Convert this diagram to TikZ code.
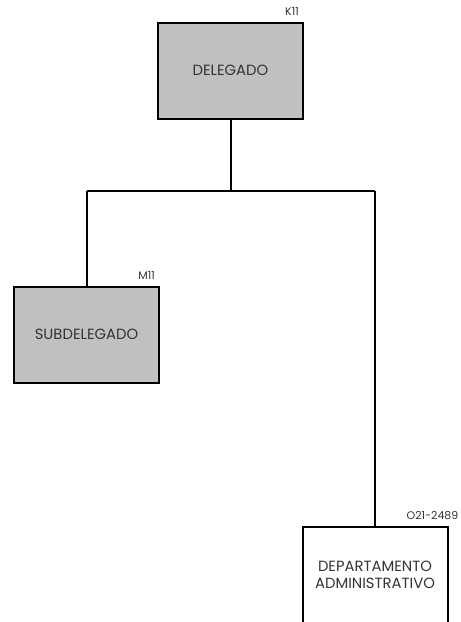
\documentclass[tikz,border=0pt]{standalone}
\usepackage{fontspec}
\setmainfont{Poppins}
\definecolor{boxgray}{HTML}{C0C0C0}
\definecolor{txt}{HTML}{333333}
\tikzset{
  unit/.style={draw=black, line width=2pt, minimum width=145pt, minimum height=96pt, inner sep=0pt, align=center, font=\fontsize{14.8}{16.5}\selectfont, text=txt},
  filled/.style={unit, fill=boxgray},
  code/.style={font=\fontsize{11}{12}\selectfont, text=txt, anchor=south east, inner sep=0pt},
  link/.style={draw=black, line width=2pt}
}
\begin{document}
\begin{tikzpicture}[x=1pt,y=-1pt]
\useasboundingbox (0,0) rectangle (461,622);
\begin{scope}
\clip (0,0) rectangle (461,622);
\node[filled] (del) at (230.5,70.5) {DELEGADO};
\node[filled] (sub) at (86.5,334.5) {SUBDELEGADO};
\node[unit] (dep) at (375,575) {DEPARTAMENTO\\ADMINISTRATIVO};
\node[code] (k) at ([xshift=-5pt,yshift=6pt]del.north east) {K11};
\node[code] (m) at ([xshift=-5pt,yshift=6pt]sub.north east) {M11};
\node[code] (o) at ([xshift=10pt,yshift=6pt]dep.north east) {O21-2489};
\coordinate (j) at (del.south |- 0,190.5);
\coordinate (jl) at (sub.north |- j);
\coordinate (jr) at (dep.north |- j);
\draw[link] (del.south) -- (j);
\draw[link] (jl) -- (jr);
\draw[link] (jl) -- (sub.north);
\draw[link] (jr) -- (dep.north);
\end{scope}
\end{tikzpicture}
\end{document}
